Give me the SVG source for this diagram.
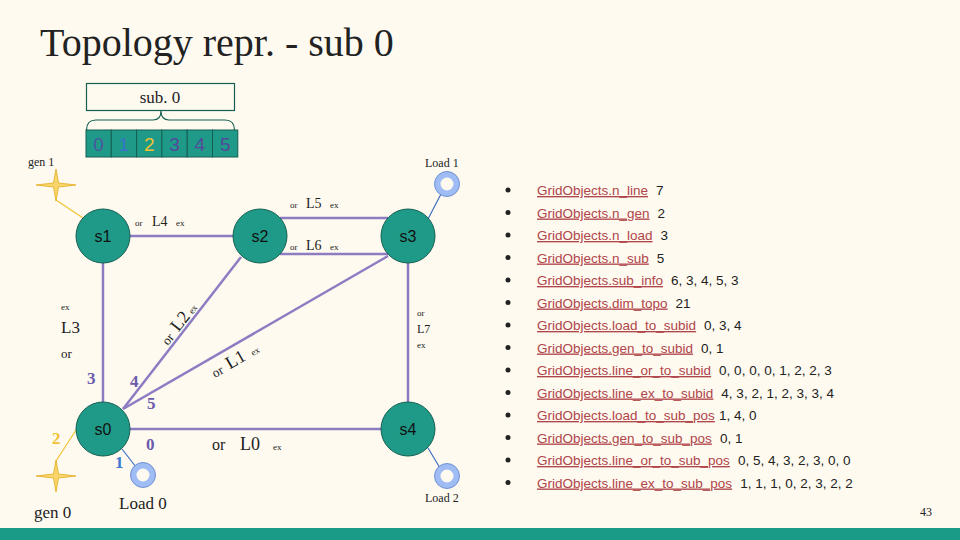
<svg xmlns="http://www.w3.org/2000/svg" width="960" height="540" viewBox="0 0 960 540">
<style>
.serif{font-family:"Liberation Serif","DejaVu Serif",serif;fill:#222}
.sans{font-family:"Liberation Sans",Arial,sans-serif}
.node{fill:#1f9a88;stroke:#155f52;stroke-width:1}
.lbl{font-family:"Liberation Sans",Arial,sans-serif;font-size:16px;fill:#111;text-anchor:middle}
.line{stroke:#8e7cc3;stroke-width:2.5;fill:none}
.lnk{font-family:"Liberation Sans",Arial,sans-serif;font-size:13.5px;fill:#b0454a;text-decoration:underline}
.val{font-family:"Liberation Sans",Arial,sans-serif;font-size:13.5px;fill:#222}
.pos{font-family:"Liberation Serif",serif;font-weight:bold;font-size:17px}
</style>
<rect width="960" height="540" fill="#fefaf0"/>
<rect y="528" width="960" height="12" fill="#1a9b88"/>
<text class="serif" x="40" y="56" font-size="40">Topology repr. - sub 0</text>
<text class="serif" x="920" y="516" font-size="12">43</text>
<g id="subbox">
<rect x="86.5" y="83.5" width="148" height="27" fill="none" stroke="#155f52" stroke-width="1.2"/>
<text class="serif" x="160" y="103" font-size="17" text-anchor="middle">sub. 0</text>
<path d="M86.5,130 Q86.5,120 96,120 L153,120 Q161,120 161,111 Q161,120 169,120 L225,120 Q234.5,120 234.5,130" fill="none" stroke="#155f52" stroke-width="1.2"/>
<g stroke="#155f52" stroke-width="1" fill="#1f9a88">
<rect x="86" y="130" width="25.3" height="27"/><rect x="111.3" y="130" width="25.3" height="27"/><rect x="136.6" y="130" width="25.3" height="27"/><rect x="161.9" y="130" width="25.3" height="27"/><rect x="187.2" y="130" width="25.3" height="27"/><rect x="212.5" y="130" width="25.3" height="27"/>
</g>
<g class="sans" font-size="19" text-anchor="middle">
<text x="98.6" y="151" fill="#4a55a0">0</text><text x="124" y="151" fill="#3a70c8">1</text><text x="149.3" y="151" fill="#f1c232">2</text><text x="174.6" y="151" fill="#54489a">3</text><text x="199.9" y="151" fill="#54489a">4</text><text x="225.2" y="151" fill="#54489a">5</text>
</g>
</g>
<g id="connectors">
<line class="line" x1="103" y1="236" x2="260" y2="236"/>
<line class="line" x1="280" y1="218" x2="388" y2="218"/>
<line class="line" x1="280" y1="254" x2="388" y2="254"/>
<line class="line" x1="103" y1="236" x2="103" y2="429"/>
<line class="line" x1="408" y1="236" x2="408" y2="429"/>
<line class="line" x1="103" y1="429" x2="407" y2="429"/>
<line class="line" x1="123" y1="409" x2="241" y2="257"/>
<line class="line" x1="123" y1="409" x2="388" y2="256"/>
<line x1="83" y1="218" x2="56" y2="200" stroke="#f1c232" stroke-width="1.2"/>
<line x1="76" y1="430" x2="56" y2="461" stroke="#f1c232" stroke-width="1.2"/>
<line x1="428" y1="219" x2="441" y2="194" stroke="#3d6fc0" stroke-width="1.2"/>
<line x1="122" y1="449" x2="136" y2="467" stroke="#3d6fc0" stroke-width="1.2"/>
<line x1="428" y1="448" x2="440" y2="468" stroke="#3d6fc0" stroke-width="1.2"/>
</g>
<g id="line-labels" class="serif">
<text x="135" y="226" font-size="9">or</text><text x="152" y="226" font-size="14">L4</text><text x="176" y="226" font-size="9">ex</text>
<text x="290" y="208" font-size="9">or</text><text x="306" y="208" font-size="14">L5</text><text x="330" y="208" font-size="9">ex</text>
<text x="290" y="250" font-size="9">or</text><text x="306" y="250" font-size="14">L6</text><text x="330" y="250" font-size="9">ex</text>
<text x="61" y="310" font-size="9">ex</text><text x="61" y="333" font-size="17">L3</text><text x="61" y="358" font-size="13">or</text>
<text x="417" y="316" font-size="9">or</text><text x="417" y="333" font-size="12">L7</text><text x="417" y="348" font-size="9">ex</text>
<text x="212" y="450" font-size="16">or</text><text x="240" y="450" font-size="18">L0</text><text x="273" y="450" font-size="9">ex</text>
<g transform="translate(168,346) rotate(-52)"><text x="0" y="0" font-size="13">or</text><text x="17" y="0" font-size="18">L2</text><text x="40" y="0" font-size="9">ex</text></g>
<g transform="translate(215,378) rotate(-30)"><text x="0" y="0" font-size="13">or</text><text x="17" y="0" font-size="18">L1</text><text x="44" y="0" font-size="9">ex</text></g>
</g>
<g id="positions" class="pos">
<text x="87" y="384" fill="#6b5bab">3</text>
<text x="130" y="387" fill="#6b5bab">4</text>
<text x="147" y="409" fill="#6b5bab">5</text>
<text x="146" y="450" fill="#6b5bab">0</text>
<text x="115" y="468" fill="#3d78d0">1</text>
<text x="52" y="444" fill="#f1c232">2</text>
</g>
<g id="s1"><circle class="node" cx="103" cy="236" r="27"/><text class="lbl" x="103" y="242">s1</text></g>
<g id="s2"><circle class="node" cx="260" cy="236" r="27"/><text class="lbl" x="260" y="242">s2</text></g>
<g id="s3"><circle class="node" cx="408" cy="236" r="27"/><text class="lbl" x="408" y="242">s3</text></g>
<g id="s0"><circle class="node" cx="103" cy="429" r="27"/><text class="lbl" x="103" y="435">s0</text></g>
<g id="s4"><circle class="node" cx="408" cy="429" r="27"/><text class="lbl" x="408" y="435">s4</text></g>
<g id="gen1"><path d="M56,169 L58.5,183 L76,185 L58.5,187 L56,201 L53.5,187 L36,185 L53.5,183 Z" fill="#f9d66b" stroke="#e8b83a" stroke-width="1"/><text class="serif" x="28" y="166" font-size="12">gen 1</text></g>
<g id="gen0"><path d="M56,460 L58.5,474 L76,476 L58.5,478 L56,492 L53.5,478 L36,476 L53.5,474 Z" fill="#f9d66b" stroke="#e8b83a" stroke-width="1"/><text class="serif" x="34" y="518" font-size="17">gen 0</text></g>
<g id="load1"><circle cx="447" cy="184" r="9.5" fill="none" stroke="#9fbcf4" stroke-width="6"/><circle cx="447" cy="184" r="12.5" fill="none" stroke="#5b7fc8" stroke-width="0.8"/><text class="serif" x="425" y="167" font-size="12">Load 1</text></g>
<g id="load0"><circle cx="143" cy="475" r="9.5" fill="none" stroke="#9fbcf4" stroke-width="6"/><circle cx="143" cy="475" r="12.5" fill="none" stroke="#5b7fc8" stroke-width="0.8"/><text class="serif" x="119" y="509" font-size="17">Load 0</text></g>
<g id="load2"><circle cx="447" cy="476" r="9.5" fill="none" stroke="#9fbcf4" stroke-width="6"/><circle cx="447" cy="476" r="12.5" fill="none" stroke="#5b7fc8" stroke-width="0.8"/><text class="serif" x="425" y="502" font-size="12">Load 2</text></g>
<g id="list">
<g fill="#222"><circle cx="508" cy="190" r="2.5"/><circle cx="508" cy="212.5" r="2.5"/><circle cx="508" cy="235" r="2.5"/><circle cx="508" cy="257.5" r="2.5"/><circle cx="508" cy="280" r="2.5"/><circle cx="508" cy="302.5" r="2.5"/><circle cx="508" cy="325" r="2.5"/><circle cx="508" cy="347.5" r="2.5"/><circle cx="508" cy="370" r="2.5"/><circle cx="508" cy="392.5" r="2.5"/><circle cx="508" cy="415" r="2.5"/><circle cx="508" cy="437.5" r="2.5"/><circle cx="508" cy="460" r="2.5"/><circle cx="508" cy="482.5" r="2.5"/></g>
<text x="537" y="195"><tspan class="lnk">GridObjects.n_line</tspan><tspan class="val" dx="8">7</tspan></text>
<text x="537" y="217.5"><tspan class="lnk">GridObjects.n_gen</tspan><tspan class="val" dx="8">2</tspan></text>
<text x="537" y="240"><tspan class="lnk">GridObjects.n_load</tspan><tspan class="val" dx="8">3</tspan></text>
<text x="537" y="262.5"><tspan class="lnk">GridObjects.n_sub</tspan><tspan class="val" dx="8">5</tspan></text>
<text x="537" y="285"><tspan class="lnk">GridObjects.sub_info</tspan><tspan class="val" dx="8">6, 3, 4, 5, 3</tspan></text>
<text x="537" y="307.5"><tspan class="lnk">GridObjects.dim_topo</tspan><tspan class="val" dx="8">21</tspan></text>
<text x="537" y="330"><tspan class="lnk">GridObjects.load_to_subid</tspan><tspan class="val" dx="8">0, 3, 4</tspan></text>
<text x="537" y="352.5"><tspan class="lnk">GridObjects.gen_to_subid</tspan><tspan class="val" dx="8">0, 1</tspan></text>
<text x="537" y="375"><tspan class="lnk">GridObjects.line_or_to_subid</tspan><tspan class="val" dx="8">0, 0, 0, 0, 1, 2, 2, 3</tspan></text>
<text x="537" y="397.5"><tspan class="lnk">GridObjects.line_ex_to_subid</tspan><tspan class="val" dx="8">4, 3, 2, 1, 2, 3, 3, 4</tspan></text>
<text x="537" y="420"><tspan class="lnk">GridObjects.load_to_sub_pos</tspan><tspan class="val" dx="4">1, 4, 0</tspan></text>
<text x="537" y="442.5"><tspan class="lnk">GridObjects.gen_to_sub_pos</tspan><tspan class="val" dx="8">0, 1</tspan></text>
<text x="537" y="465"><tspan class="lnk">GridObjects.line_or_to_sub_pos</tspan><tspan class="val" dx="8">0, 5, 4, 3, 2, 3, 0, 0</tspan></text>
<text x="537" y="487.5"><tspan class="lnk">GridObjects.line_ex_to_sub_pos</tspan><tspan class="val" dx="8">1, 1, 1, 0, 2, 3, 2, 2</tspan></text>
</g>
</svg>
